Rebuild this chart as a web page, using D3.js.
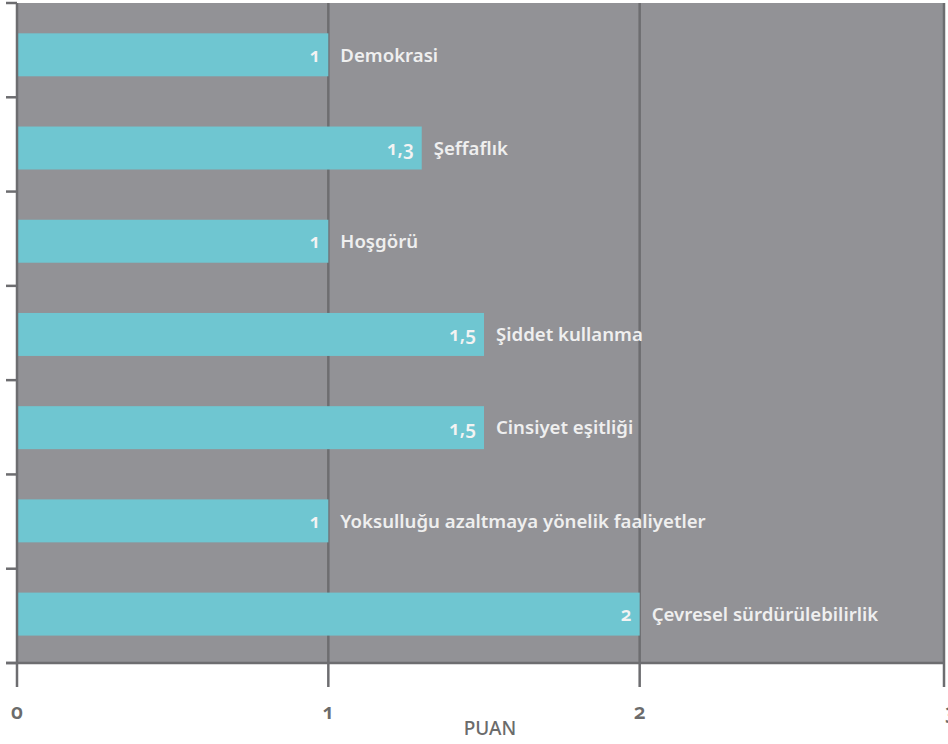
<!DOCTYPE html>
<html><head><meta charset="utf-8">
<script src="https://cdn.jsdelivr.net/npm/d3@7"></script>
<style>
html,body{margin:0;padding:0;background:#fff;}
svg{display:block;}
text{font-family:"Noto Sans",sans-serif;}
.onum{font-variant-numeric:oldstyle-nums;font-feature-settings:"onum" 1;}
</style></head>
<body>
<script>
const categories = ["Demokrasi","Şeffaflık","Hoşgörü","Şiddet kullanma","Cinsiyet eşitliği","Yoksulluğu azaltmaya yönelik faaliyetler","Çevresel sürdürülebilirlik"];
const values = [1, 1.3, 1, 1.5, 1.5, 1, 2];
const valueLabels = ["1","1,3","1","1,5","1,5","1","2"];
const xTicks = [0, 1, 2, 3];
const xTickLabels = ["0","1","2","3"];
const axisTitle = "PUAN";

(function () {
const W = 948, H = 744;
const mLeft = 17, mTop = 3, mBottom = 663, plotRight = 944;
const axisColor = "#6d6d70";

const svg = d3.select("body").append("svg").attr("width", W).attr("height", H);

const x = d3.scaleLinear().domain([0, 3]).range([mLeft, 951]);
const y = d3.scaleBand().domain(categories).range([8.2, 660.7]).paddingInner(0.539).paddingOuter(0.2695);
const step = (mBottom - mTop) / categories.length;

// plot background
svg.append("rect").attr("x", mLeft).attr("y", mTop).attr("width", plotRight - mLeft).attr("height", mBottom - mTop).attr("fill", "#929296");

// gridlines
svg.append("g").selectAll("line").data(xTicks.filter(d => d > 0)).join("line")
  .attr("x1", d => x(d)).attr("x2", d => x(d)).attr("y1", mTop).attr("y2", mBottom)
  .attr("stroke", axisColor).attr("stroke-width", 2.5);

// bars
svg.append("g").selectAll("rect").data(categories).join("rect")
  .attr("x", x(0)).attr("y", d => y(d))
  .attr("width", (d, i) => x(values[i]) - x(0)).attr("height", y.bandwidth())
  .attr("fill", "#6fc6d1");

// value labels
svg.append("g").selectAll("text").data(categories).join("text")
  .attr("class", "onum")
  .attr("x", (d, i) => x(values[i]) - 8)
  .attr("y", d => y(d) + y.bandwidth() / 2)
  .attr("dy", "0.36em")
  .attr("text-anchor", "end")
  .attr("fill", "#f3f3f3").attr("font-size", 19).attr("font-weight", 600)
  .text((d, i) => valueLabels[i]);

// category labels
svg.append("g").selectAll("text").data(categories).join("text")
  .attr("x", (d, i) => x(values[i]) + 12)
  .attr("y", d => y(d) + y.bandwidth() / 2)
  .attr("dy", "0.36em")
  .attr("fill", "#efefef").attr("font-size", 18.6).attr("font-weight", 600)
  .text(d => d);

// left axis with ticks at band boundaries
const yTicks = d3.range(categories.length + 1).map(i => mTop + i * step);
svg.append("g").selectAll("line").data(yTicks).join("line")
  .attr("x1", 6).attr("x2", mLeft).attr("y1", d => d).attr("y2", d => d)
  .attr("stroke", axisColor).attr("stroke-width", 2.5);
svg.append("line").attr("x1", mLeft).attr("x2", mLeft).attr("y1", mTop).attr("y2", 687)
  .attr("stroke", axisColor).attr("stroke-width", 2.5);

// bottom axis
svg.append("line").attr("x1", 6).attr("x2", plotRight + 1).attr("y1", mBottom).attr("y2", mBottom)
  .attr("stroke", axisColor).attr("stroke-width", 2.5);
svg.append("g").selectAll("line").data(xTicks.filter(d => d > 0)).join("line")
  .attr("x1", d => x(d)).attr("x2", d => x(d)).attr("y1", mBottom).attr("y2", 687)
  .attr("stroke", axisColor).attr("stroke-width", 2.5);
// right border
svg.append("line").attr("x1", plotRight).attr("x2", plotRight).attr("y1", mTop).attr("y2", 687)
  .attr("stroke", axisColor).attr("stroke-width", 2.5);

svg.append("g").selectAll("text").data(xTicks).join("text")
  .attr("class", "onum")
  .attr("x", d => x(d)).attr("y", 711).attr("dy", "0.36em")
  .attr("text-anchor", "middle").attr("fill", "#6b6b6b")
  .attr("font-size", 21).attr("font-weight", 600)
  .text((d, i) => xTickLabels[i]);

svg.append("text").attr("x", 490).attr("y", 728).attr("dy", "0.36em")
  .attr("text-anchor", "middle").attr("fill", "#6b6b6b")
  .attr("font-size", 19).attr("font-weight", 500)
  .text(axisTitle);
})();
</script>
</body></html>
